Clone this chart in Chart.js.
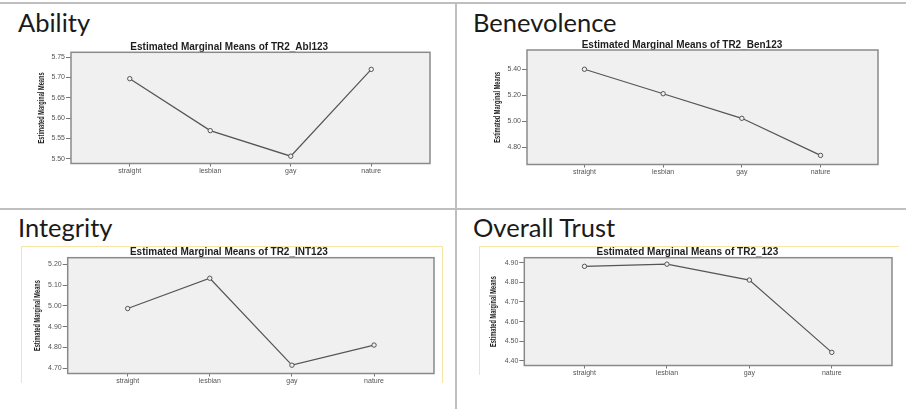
<!DOCTYPE html>
<html>
<head>
<meta charset="utf-8">
<script src="https://cdn.jsdelivr.net/npm/chart.js@4.4.1/dist/chart.umd.min.js"></script>
<style>
  body { margin: 0; width: 906px; height: 409px; background: #fff; position: relative; overflow: hidden; }
  .rule { position: absolute; background: #bfbfbf; }
  .head { position: absolute; font-family: Lato, 'Open Sans', sans-serif; font-size: 25.5px; line-height: 1; color: #1a1a1a; white-space: nowrap; }
  .ybox { position: absolute; border: 1.5px solid #f5e6a6; }
  canvas { position: absolute; }
</style>
</head>
<body>
<div class="rule" style="left:0;top:2px;width:906px;height:2px"></div>
<div class="rule" style="left:0;top:208px;width:906px;height:2px"></div>
<div class="rule" style="left:455px;top:2px;width:2px;height:407px"></div>

<div class="head" style="left:18px;top:10px">Ability</div>
<div class="head" style="left:473px;top:10px">Benevolence</div>
<div class="head" style="left:18px;top:215px">Integrity</div>
<div class="head" style="left:473px;top:215px">Overall Trust</div>

<div class="ybox" style="left:21px;top:246px;width:420px;height:136px;border-bottom:none"></div>
<div class="ybox" style="left:479px;top:246px;width:419px;height:128px;border-bottom:none;border-right:none"></div>

<canvas id="ablChart"></canvas>
<canvas id="benChart"></canvas>
<canvas id="intChart"></canvas>
<canvas id="allChart"></canvas>

<script>
// ---- data ----
const categories = ['straight', 'lesbian', 'gay', 'nature'];

const ablMeans = [5.697, 5.569, 5.506, 5.720];
const benMeans = [5.400, 5.212, 5.023, 4.738];
const intMeans = [4.987, 5.133, 4.714, 4.811];
const allMeans = [4.882, 4.893, 4.812, 4.443];

const ablTicks = [5.50, 5.55, 5.60, 5.65, 5.70, 5.75];
const benTicks = [4.80, 5.00, 5.20, 5.40];
const intTicks = [4.70, 4.80, 4.90, 5.00, 5.10, 5.20];
const allTicks = [4.40, 4.50, 4.60, 4.70, 4.80, 4.90];

const ablRange = [5.488, 5.762];
const benRange = [4.668, 5.548];
const intRange = [4.674, 5.232];
const allRange = [4.376, 4.926];

// ---- layout (page pixels) ----
const layouts = {
    abl: { box: { left: 26, top: 36, width: 409, height: 149 }, plot: { left: 71, top: 52.3, right: 432.5, bottom: 163.5 }, titleY: 47.3, yTitleX: 41.7 },
    ben: { box: { left: 484, top: 34, width: 399, height: 151 }, plot: { left: 527, top: 50, right: 880, bottom: 164.5 }, titleY: 45, yTitleX: 498 },
    int: { box: { left: 21, top: 240, width: 418, height: 152 }, plot: { left: 67.7, top: 257.7, right: 436.7, bottom: 373.5 }, titleY: 252.7, yTitleX: 38 },
    all: { box: { left: 480, top: 240, width: 417, height: 145 }, plot: { left: 524.3, top: 257.7, right: 894.7, bottom: 365.5 }, titleY: 252.7, yTitleX: 494 }
};

const sansFont = "'Liberation Sans', Arial, sans-serif";

// grey SPSS plot area with its frame
const plotFrame = {
    id: 'plotFrame',
    beforeDraw: function(chart) {
        var a = chart.chartArea, ctx = chart.ctx;
        ctx.save();
        ctx.fillStyle = '#f0f0f0';
        ctx.fillRect(a.left, a.top, a.right - a.left, a.bottom - a.top);
        ctx.restore();
    },
    beforeDatasetsDraw: function(chart) {
        var a = chart.chartArea, ctx = chart.ctx;
        ctx.save();
        ctx.strokeStyle = '#8a8a8a';
        ctx.lineWidth = 1.5;
        ctx.strokeRect(a.left, a.top, a.right - a.left, a.bottom - a.top);
        ctx.restore();
    }
};

// condensed bold y title (SPSS squeezes it)
const yTitle = {
    id: 'yTitle',
    afterDraw: function(chart, args, opts) {
        var a = chart.chartArea, ctx = chart.ctx;
        ctx.save();
        ctx.font = 'bold 8.5px ' + sansFont;
        var w = ctx.measureText(opts.text).width;
        ctx.translate(opts.x, (a.top + a.bottom) / 2);
        ctx.rotate(-Math.PI / 2);
        ctx.scale(opts.length / w, 1);
        ctx.textAlign = 'center';
        ctx.textBaseline = 'middle';
        ctx.fillStyle = '#1e1e1e';
        ctx.fillText(opts.text, 0, 0);
        ctx.restore();
    }
};

function drawEmm(id, lay, varName, means, ticks, range) {
    var canvas = document.getElementById(id);
    var box = lay.box, plot = lay.plot;
    canvas.width = box.width; canvas.height = box.height;
    canvas.style.left = box.left + 'px'; canvas.style.top = box.top + 'px';
    canvas.style.width = box.width + 'px'; canvas.style.height = box.height + 'px';

    var titleLh = 10;
    var titlePadTop = lay.titleY - box.top - titleLh / 2;
    var titlePadBottom = Math.max(0, plot.top - box.top - titleLh - titlePadTop);

    return new Chart(canvas.getContext('2d'), {
        type: 'line',
        data: {
            datasets: [{
                data: means.map(function(v, i) { return { x: i + 1, y: v }; }),
                borderColor: '#555',
                borderWidth: 1.2,
                pointRadius: 2.2,
                pointBorderWidth: 1,
                pointBorderColor: '#555',
                pointBackgroundColor: '#f0f0f0',
                tension: 0
            }]
        },
        options: {
            responsive: false,
            animation: false,
            layout: { padding: { left: 0, top: 0, bottom: 0, right: box.left + box.width - plot.right } },
            plugins: {
                legend: { display: false },
                tooltip: { enabled: false },
                title: {
                    display: true,
                    text: 'Estimated Marginal Means of ' + varName,
                    color: '#1e1e1e',
                    font: { family: sansFont, size: 10, weight: 'bold', lineHeight: 1 },
                    padding: { top: titlePadTop, bottom: titlePadBottom }
                },
                yTitle: { text: 'Estimated Marginal Means', x: lay.yTitleX - box.left, length: 71 }
            },
            scales: {
                x: {
                    type: 'linear',
                    min: 0.27, max: 4.73,
                    afterBuildTicks: function(ax) { ax.ticks = categories.map(function(c, i) { return { value: i + 1 }; }); },
                    afterFit: function(ax) { ax.height = box.top + box.height - plot.bottom; },
                    ticks: {
                        callback: function(v) { return categories[v - 1]; },
                        color: '#555', font: { family: sansFont, size: 7 },
                        padding: 0, maxRotation: 0, autoSkip: false
                    },
                    grid: { drawOnChartArea: false, tickLength: 3, color: '#777' },
                    border: { display: false }
                },
                y: {
                    min: range[0], max: range[1],
                    afterBuildTicks: function(ax) { ax.ticks = ticks.map(function(v) { return { value: v }; }); },
                    afterFit: function(ax) { ax.width = plot.left - box.left; },
                    ticks: {
                        callback: function(v) { return v.toFixed(2); },
                        color: '#555', font: { family: sansFont, size: 7 }, padding: 1
                    },
                    grid: { drawOnChartArea: false, tickLength: 5, color: '#777' },
                    border: { display: false }
                }
            }
        },
        plugins: [plotFrame, yTitle]
    });
}

drawEmm('ablChart', layouts.abl, 'TR2_Abl123', ablMeans, ablTicks, ablRange);
drawEmm('benChart', layouts.ben, 'TR2_Ben123', benMeans, benTicks, benRange);
drawEmm('intChart', layouts.int, 'TR2_INT123', intMeans, intTicks, intRange);
drawEmm('allChart', layouts.all, 'TR2_123', allMeans, allTicks, allRange);
</script>
</body>
</html>
